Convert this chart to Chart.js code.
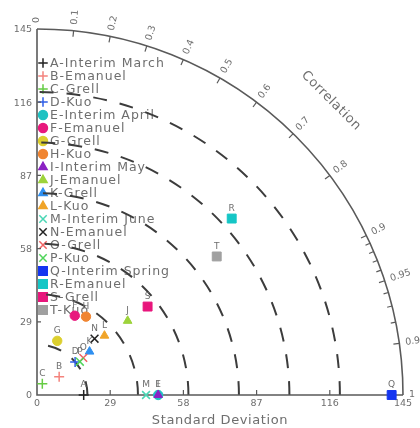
<!DOCTYPE html>
<html>
<head>
<meta charset="utf-8">
<script src="https://cdn.jsdelivr.net/npm/chart.js@4.4.1/dist/chart.umd.min.js"></script>
<style>
  html, body { margin: 0; padding: 0; background: #fff; }
  canvas { display: block; }
</style>
</head>
<body>
<canvas id="taylor" width="420" height="428"></canvas>
<script>
// Case identifiers and legend names
const codes = ['A','B','C','D','E','F','G','H','I','J','K','L','M','N','O','P','Q','R','S','T'];
const names = [
  'A-Interim March', 'B-Emanuel', 'C-Grell', 'D-Kuo',
  'E-Interim April', 'F-Emanuel', 'G-Grell', 'H-Kuo',
  'I-Interim May', 'J-Emanuel', 'K-Grell', 'L-Kuo',
  'M-Interim June', 'N-Emanuel', 'O-Grell', 'P-Kuo',
  'Q-Interim Spring', 'R-Emanuel', 'S-Grell', 'T-Kuo'
];
// Standard deviation and correlation of each case
const stdDev = [18.5, 11.4, 4.9, 20.0, 48.0, 34.8, 22.9, 36.6, 48.0, 46.4, 27.0, 35.6, 43.2, 31.9, 23.5, 21.5, 140.5, 104.1, 56.1, 89.9];
const correlation = [1.0, 0.77, 0.43, 0.755, 1.0, 0.43, 0.35, 0.53, 1.0, 0.774, 0.771, 0.751, 1.0, 0.715, 0.78, 0.79, 1.0, 0.741, 0.781, 0.792];

// Axis ticks
const stdTicks = [0, 29, 58, 87, 116, 145];
const stdMax = 145;
const stdArcs = [20, 40, 60, 80, 100, 120];
const corrLabels = [0, 0.1, 0.2, 0.3, 0.4, 0.5, 0.6, 0.7, 0.8, 0.9, 0.95, 0.99];
const corrMinor = [0.91, 0.92, 0.93, 0.94, 0.96, 0.97, 0.98];

// Marker style per case
const colors = ['#222222','#f4837d','#66cc44','#2f5fe8',
                '#1fc2c2','#e8197d','#dccf2e','#f08532',
                '#8b22c4','#9dd33b','#2e8ff0','#f0a428',
                '#49d6b4','#222222','#f06262','#4fd45a',
                '#1435f0','#15c6c6','#e8167c','#a0a0a0'];
const styles = ['cross','cross','cross','cross',
                'circle','circle','circle','circle',
                'triangle','triangle','triangle','triangle',
                'crossRot','crossRot','crossRot','crossRot',
                'rect','rect','rect','rect'];
const sizeFor = { cross: 5, crossRot: 5.5, circle: 4.7, triangle: 5, rect: 6.3 };

const TEXT = '#6e6e6e';
const FONT = '"DejaVu Sans", sans-serif';

function drawMarker(ctx, style, color, radius, x, y) {
  ctx.save();
  ctx.fillStyle = color;
  ctx.strokeStyle = color;
  ctx.lineWidth = 1.5;
  const opts = { pointStyle: style, radius: radius, rotation: 0, borderWidth: 1.5 };
  if (Chart.helpers && Chart.helpers.drawPoint) {
    Chart.helpers.drawPoint(ctx, opts, x, y);
  } else {
    ctx.beginPath();
    ctx.arc(x, y, radius, 0, Math.PI * 2);
    ctx.fill();
  }
  ctx.restore();
}

const datasets = codes.map((c, i) => {
  const r = correlation[i];
  const s = stdDev[i];
  const ang = Math.acos(Math.min(1, r));
  const isLine = styles[i] === 'cross' || styles[i] === 'crossRot';
  return {
    label: names[i],
    data: [{ x: s * Math.cos(ang), y: s * Math.sin(ang) }],
    pointStyle: styles[i],
    pointRadius: sizeFor[styles[i]],
    backgroundColor: colors[i],
    borderColor: colors[i],
    pointBorderWidth: isLine ? 1.5 : 1,
    showLine: false,
    clip: false,
    order: codes.length - i
  };
});

const taylorFrame = {
  id: 'taylorFrame',
  beforeDatasetsDraw(chart) {
    const { ctx, scales: { x, y } } = chart;
    const ox = x.getPixelForValue(0);
    const oy = y.getPixelForValue(0);
    const rad = v => x.getPixelForValue(v) - ox;
    const R = rad(stdMax);

    ctx.save();
    // Legend
    ctx.font = '12.5px ' + FONT;
    ctx.letterSpacing = '1px';
    ctx.textBaseline = 'middle';
    ctx.textAlign = 'left';
    const lx = ox + 6, ly0 = 63, lstep = 13;
    codes.forEach((c, i) => {
      const yy = ly0 + i * lstep;
      drawMarker(ctx, styles[i], colors[i], sizeFor[styles[i]] * 0.95, lx, yy);
      ctx.fillStyle = TEXT;
      ctx.fillText(names[i], lx + 7, yy + 0.5);
    });
    ctx.letterSpacing = '0px';

    // Standard deviation arcs (dashed)
    ctx.setLineDash([14, 13]);
    ctx.lineWidth = 2;
    ctx.strokeStyle = '#3c3c3c';
    stdArcs.forEach(s => {
      ctx.beginPath();
      ctx.arc(ox, oy, rad(s), 0, -Math.PI / 2, true);
      ctx.stroke();
    });
    ctx.setLineDash([]);

    // Axes and outer correlation arc
    ctx.strokeStyle = '#5a5a5a';
    ctx.lineWidth = 1.6;
    ctx.beginPath();
    ctx.moveTo(ox, y.getPixelForValue(stdMax));
    ctx.lineTo(ox, oy);
    ctx.lineTo(x.getPixelForValue(stdMax), oy);
    ctx.stroke();
    ctx.beginPath();
    ctx.arc(ox, oy, R, 0, -Math.PI / 2, true);
    ctx.stroke();

    // Std ticks and labels
    ctx.lineWidth = 1.2;
    ctx.font = '9.5px ' + FONT;
    ctx.fillStyle = TEXT;
    stdTicks.forEach(t => {
      const px = x.getPixelForValue(t);
      const py = y.getPixelForValue(t);
      if (t > 0 && t < stdMax) {
        ctx.beginPath();
        ctx.moveTo(px, oy); ctx.lineTo(px, oy - 5);
        ctx.moveTo(ox, py); ctx.lineTo(ox + 4, py);
        ctx.stroke();
      }
      ctx.textAlign = 'center';
      ctx.textBaseline = 'middle';
      ctx.fillText(String(t), px, oy + 9);
      ctx.textAlign = 'right';
      ctx.fillText(String(t), ox - 5, py + 1);
    });

    // Correlation ticks and labels
    const tick = (c, len) => {
      const a = Math.acos(c);
      ctx.beginPath();
      ctx.moveTo(ox + R * Math.cos(a), oy - R * Math.sin(a));
      ctx.lineTo(ox + (R - len) * Math.cos(a), oy - (R - len) * Math.sin(a));
      ctx.stroke();
    };
    corrLabels.forEach(c => { if (c > 0) tick(c, 6); });
    corrMinor.forEach(c => tick(c, 5));

    ctx.font = '9.5px ' + FONT;
    ctx.textAlign = 'center';
    ctx.textBaseline = 'middle';
    corrLabels.concat([1]).forEach(c => {
      const a = Math.acos(c);
      const txt = String(c);
      const w = ctx.measureText(txt).width;
      const rr = R + 6 + w / 2;
      ctx.save();
      ctx.translate(ox + rr * Math.cos(a), oy - rr * Math.sin(a));
      ctx.rotate(-a);
      ctx.fillText(txt, 0, 0);
      ctx.restore();
    });

    // Axis titles
    ctx.font = '13px ' + FONT;
    ctx.letterSpacing = '0.6px';
    ctx.save();
    const ta = Math.PI / 4, tr = R + 50;
    ctx.translate(ox + tr * Math.cos(ta), oy - tr * Math.sin(ta));
    ctx.rotate(ta);
    ctx.fillText('Correlation', 0, 0);
    ctx.restore();
    ctx.fillText('Standard Deviation', (ox + x.getPixelForValue(stdMax)) / 2, oy + 26);
    ctx.restore();
  },
  afterDatasetsDraw(chart) {
    const { ctx } = chart;
    ctx.save();
    ctx.font = '9px ' + FONT;
    ctx.fillStyle = TEXT;
    ctx.textAlign = 'center';
    ctx.textBaseline = 'middle';
    chart.data.datasets.forEach((ds, i) => {
      const el = chart.getDatasetMeta(i).data[0];
      ctx.fillText(codes[i], el.x, el.y - 10);
    });
    ctx.restore();
  }
};

new Chart(document.getElementById('taylor'), {
  type: 'scatter',
  data: { datasets },
  options: {
    responsive: false,
    animation: false,
    events: [],
    layout: { padding: { left: 37, top: 29, right: 17, bottom: 33 } },
    scales: {
      x: { type: 'linear', min: 0, max: stdMax, display: false },
      y: { type: 'linear', min: 0, max: stdMax, display: false }
    },
    plugins: { legend: { display: false }, tooltip: { enabled: false } }
  },
  plugins: [taylorFrame]
});
</script>
</body>
</html>
